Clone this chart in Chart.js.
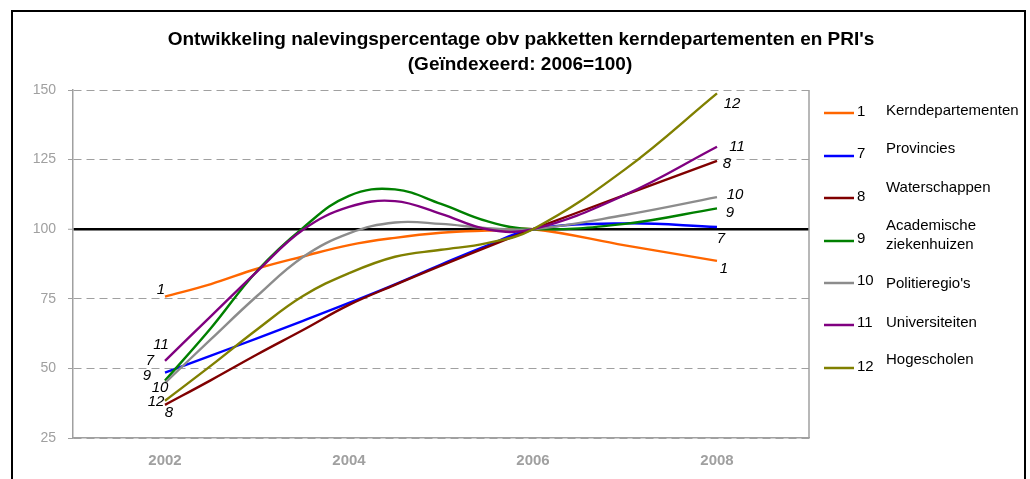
<!DOCTYPE html>
<html><head><meta charset="utf-8">
<script src="https://cdn.jsdelivr.net/npm/chart.js@4.4.0/dist/chart.umd.min.js"></script>
<style>html,body{margin:0;padding:0;background:#fff;}#wrap{position:relative;width:1030px;height:479px;}</style>
</head><body><div id="wrap"><canvas id="c" width="1030" height="479"></canvas></div>
<script>
// ---- data ----
const titleLines = ["Ontwikkeling nalevingspercentage obv pakketten kerndepartementen en PRI's", "(Geïndexeerd: 2006=100)"];
const years = [2002, 2002.5, 2003, 2003.5, 2004, 2004.5, 2005, 2005.5, 2006, 2007, 2008];
const xTickLabels = [2002, 2004, 2006, 2008];
const yTickLabels = [25, 50, 75, 100, 125, 150];
const seriesCodes = ['1', '7', '8', '9', '10', '11', '12'];
const seriesNames = ['Kerndepartementen', 'Provincies', 'Waterschappen', ['Academische', 'ziekenhuizen'], "Politieregio's", 'Universiteiten', 'Hogescholen'];
const kerndepartementen = [75.8, 80.3, 85.8, 90.2, 94.3, 96.9, 98.7, 99.5, 100, 94.2, 88.6];
const provincies        = [48.5, 54.6, 60.8, 67.1, 73.5, 80.2, 87.3, 94.1, 100, 102.1, 100.8];
const waterschappen     = [36.9, 45.8, 55.0, 63.8, 72.8, 80.0, 86.9, 93.6, 100, 112.3, 124.5];
const academische       = [45.6, 64.5, 85.0, 100.5, 112.0, 114.3, 109.1, 102.9, 100, 101.9, 107.5];
const politie           = [44.8, 60.5, 76.0, 90.0, 98.5, 102.4, 101.9, 100.4, 100, 105.1, 111.5];
const universiteiten    = [52.7, 68.8, 84.8, 99.8, 108.0, 110.1, 105.5, 100.0, 100, 112.3, 129.6];
const hogescholen       = [38.4, 51.0, 64.0, 76.0, 84.2, 90.1, 92.6, 95.0, 100, 121.5, 148.8];
const seriesValues = [kerndepartementen, provincies, waterschappen, academische, politie, universiteiten, hogescholen];

// ---- styles ----
const colors = ['#FF6600', '#0000FF', '#800000', '#008000', '#8C8C8C', '#800080', '#808000'];
const startLabelOffsets = [[-4,-7],[-15,-12],[4,8],[-18,-5],[-5,5],[-4,-16],[-9,1]];
const endLabelOffsets = [[7,8],[4,12],[10,3],[13,5],[18,-2],[20,0],[15,10]];
const legendLineY = [113,156,198,241,283,325,368];
const legendNumY = [112,154,197,239,281,323,367];
const legendNameY = [[111],[149],[188],[226,245],[284],[323],[360]];
const FONT = '"Liberation Sans", Arial, sans-serif';
const GRAY = '#a0a0a0';

const decorPlugin = {
  id: 'decor',
  beforeDraw(chart) {
    const ctx = chart.ctx;
    ctx.save();
    ctx.fillStyle = '#fff';
    ctx.fillRect(0, 0, chart.width, chart.height);
    ctx.strokeStyle = '#000';
    ctx.lineWidth = 2;
    ctx.strokeRect(12, 11, 1013, 600);
    ctx.fillStyle = '#000';
    ctx.font = 'bold 19px ' + FONT;
    ctx.textAlign = 'center';
    ctx.textBaseline = 'middle';
    ctx.fillText(titleLines[0], 521, 40);
    ctx.fillText(titleLines[1], 520, 65);
    ctx.restore();
  },
  beforeDatasetsDraw(chart) {
    const {ctx, chartArea} = chart;
    ctx.save();
    ctx.strokeStyle = GRAY;
    ctx.lineWidth = 1.5;
    ctx.beginPath();
    ctx.moveTo(chartArea.right, chartArea.top);
    ctx.lineTo(chartArea.right, chartArea.bottom);
    ctx.stroke();
    ctx.restore();
  },
  afterDatasetsDraw(chart) {
    const ctx = chart.ctx;
    ctx.save();
    ctx.fillStyle = '#000';
    ctx.font = 'italic 15px ' + FONT;
    ctx.textAlign = 'center';
    ctx.textBaseline = 'middle';
    chart.data.datasets.forEach((ds, i) => {
      const pts = chart.getDatasetMeta(i).data;
      const a = pts[0], b = pts[pts.length - 1];
      ctx.fillText(seriesCodes[i], a.x + startLabelOffsets[i][0], a.y + startLabelOffsets[i][1]);
      ctx.fillText(seriesCodes[i], b.x + endLabelOffsets[i][0], b.y + endLabelOffsets[i][1]);
    });
    // legend
    ctx.font = '15px ' + FONT;
    ctx.textAlign = 'left';
    seriesCodes.forEach((code, i) => {
      ctx.strokeStyle = colors[i];
      ctx.lineWidth = 2.5;
      ctx.beginPath();
      ctx.moveTo(824, legendLineY[i]);
      ctx.lineTo(854, legendLineY[i]);
      ctx.stroke();
      ctx.fillStyle = '#000';
      ctx.fillText(code, 857, legendNumY[i]);
      const nm = Array.isArray(seriesNames[i]) ? seriesNames[i] : [seriesNames[i]];
      nm.forEach((t, k) => ctx.fillText(t, 886, legendNameY[i][k]));
    });
    ctx.restore();
  }
};

const datasets = seriesValues.map((vals, i) => ({
  label: seriesCodes[i] + ' ' + [].concat(seriesNames[i]).join(' '),
  data: years.map((x, k) => ({x: x, y: vals[k]})),
  borderColor: colors[i],
  backgroundColor: colors[i],
  borderWidth: 2.4,
  pointRadius: 0,
  tension: 0.4,
  fill: false,
  order: seriesValues.length - i
}));

new Chart(document.getElementById('c'), {
  type: 'line',
  data: {datasets},
  plugins: [decorPlugin],
  options: {
    responsive: false,
    animation: false,
    layout: {padding: {left: 0, top: 90, right: 221, bottom: 0}},
    plugins: {legend: {display: false}, title: {display: false}, tooltip: {enabled: false}},
    scales: {
      x: {
        type: 'linear', min: 2001, max: 2009,
        afterBuildTicks: s => { s.ticks = xTickLabels.map(v => ({value: v})); },
        afterFit: s => { s.height = 41; },
        grid: {drawOnChartArea: false, drawTicks: false},
        border: {display: true, color: GRAY, width: 1.5},
        ticks: {font: {family: FONT, size: 15, weight: 'bold'}, color: GRAY, padding: 14, maxRotation: 0, autoSkip: false, callback: v => String(v)}
      },
      y: {
        min: 25, max: 150,
        afterBuildTicks: s => { s.ticks = yTickLabels.map(v => ({value: v})); },
        afterFit: s => { s.width = 73; },
        grid: {
          color: c => (c.tick && c.tick.value === 100) ? '#000' : GRAY,
          lineWidth: c => (c.tick && c.tick.value === 100) ? 2.5 : 1,
          tickLength: 5, tickColor: GRAY, tickWidth: 1, tickBorderDash: []
        },
        border: {display: true, color: GRAY, width: 1.5, dash: c => (c.tick && c.tick.value === 100) ? [] : [8, 5]},
        ticks: {font: {family: FONT, size: 14}, color: GRAY, padding: 12, callback: v => String(v)}
      }
    }
  }
});
</script></body></html>
